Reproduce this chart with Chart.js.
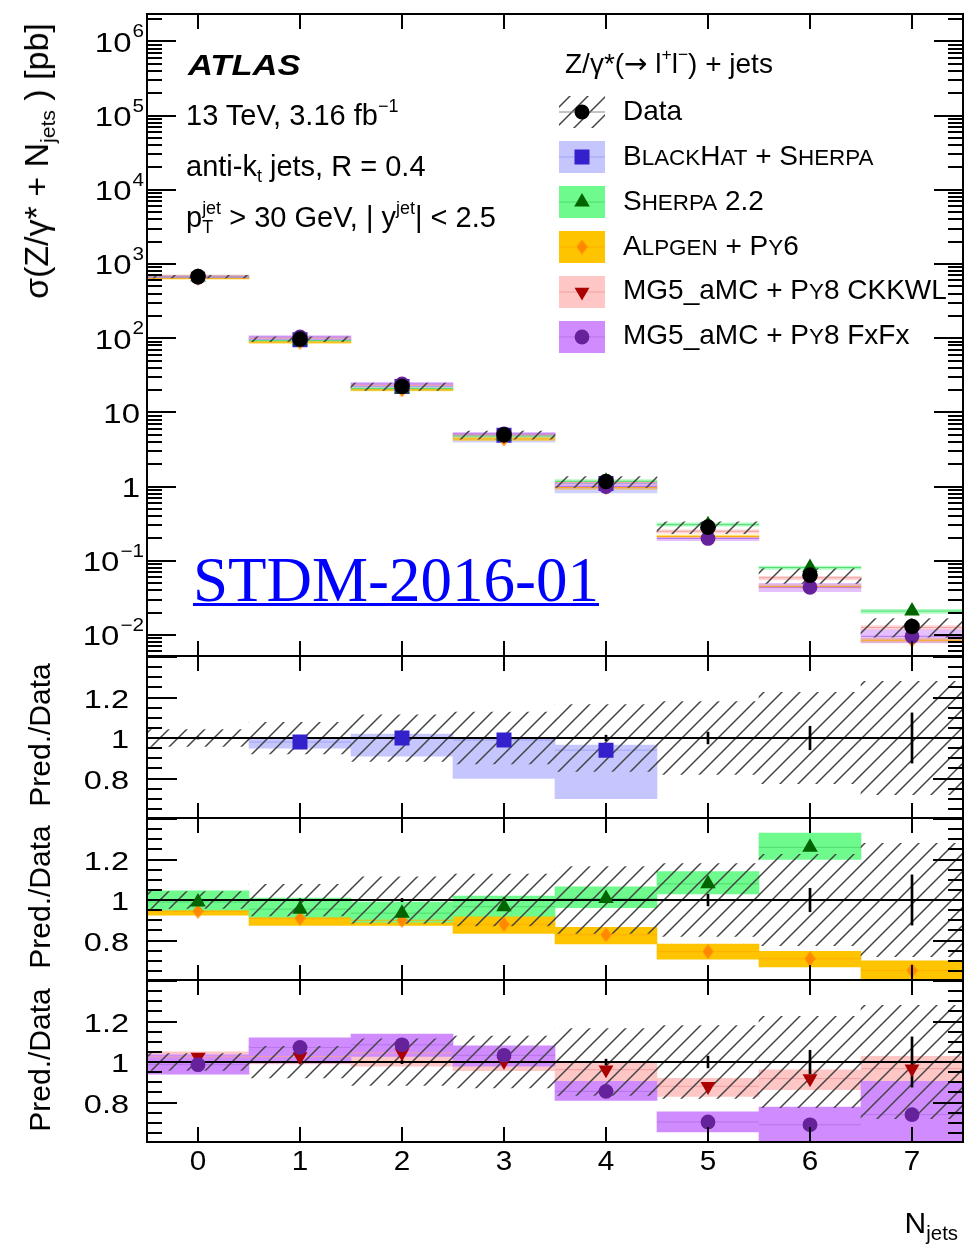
<!DOCTYPE html>
<html>
<head>
<meta charset="utf-8">
<title>Z+jets exclusive jet multiplicity</title>
<script src="https://cdn.jsdelivr.net/npm/chart.js@4.4.1/dist/chart.umd.min.js"></script>
<style>
  html, body { margin: 0; padding: 0; background: #fff; }
  #page { position: relative; width: 966px; height: 1248px; overflow: hidden; font-family: "Liberation Sans", Arial, Helvetica, sans-serif; color: #000; }
  #page canvas { position: absolute; left: 0; }
  .txt { position: absolute; white-space: nowrap; line-height: 1; }
  .sup { font-size: 0.62em; position: relative; top: -0.75em; }
  .sub { font-size: 0.62em; position: relative; top: 0.35em; }
  .sc { font-size: 0.8em; text-transform: uppercase; }
  .rot { transform: translate(-50%, -50%) rotate(-90deg); }
  .arrow { font-family: "DejaVu Sans", sans-serif; }
</style>
</head>
<body>
<div id="page">
  <canvas id="cMain" width="966" height="660" style="top:0px"></canvas>
  <canvas id="cR1" width="966" height="182" style="top:646px"></canvas>
  <canvas id="cR2" width="966" height="182" style="top:808px"></canvas>
  <canvas id="cR3" width="966" height="278" style="top:970px"></canvas>

  <!-- labels -->
  <div class="txt" style="left:188px; top:50px; font-size:30px; font-weight:bold; font-style:italic; transform:scaleX(1.15); transform-origin:left;">ATLAS</div>
  <div class="txt" style="left:186px; top:101px; font-size:29px;">13 TeV, 3.16 fb<span class="sup">−1</span></div>
  <div class="txt" style="left:186px; top:152px; font-size:29px;">anti-k<span class="sub">t</span> jets, R = 0.4</div>
  <div class="txt" style="left:186px; top:203px; font-size:29px;">p<span class="sub">T</span><span class="sup" style="margin-left:-11px">jet</span> &gt; 30 GeV, | y<span class="sup">jet</span>| &lt; 2.5</div>

  <!-- legend text -->
  <div class="txt" style="left:565px; top:50px; font-size:28px;">Z/γ*(<span class="arrow">→</span> l<span class="sup">+</span>l<span class="sup">−</span>) + jets</div>
  <div class="txt" style="left:623px; top:97px; font-size:28px;">Data</div>
  <div class="txt" style="left:623px; top:142px; font-size:28px;">B<span class="sc">lack</span>H<span class="sc">at</span> + S<span class="sc">herpa</span></div>
  <div class="txt" style="left:623px; top:187px; font-size:28px;">S<span class="sc">herpa</span> 2.2</div>
  <div class="txt" style="left:623px; top:232px; font-size:28px;">A<span class="sc">lpgen</span> + P<span class="sc">y</span>6</div>
  <div class="txt" style="left:623px; top:276px; font-size:28px;">MG5_aMC + P<span class="sc">y</span>8 CKKWL</div>
  <div class="txt" style="left:623px; top:321px; font-size:28px;">MG5_aMC + P<span class="sc">y</span>8 FxFx</div>

  <div class="txt" style="left:193px; top:549px; font-size:63px; font-family:'Liberation Serif', 'Times New Roman', serif; color:#0000ff; text-decoration:underline; text-decoration-thickness:3px;">STDM-2016-01</div>

  <!-- axis titles -->
  <div class="txt rot" style="left:36px; top:161px; font-size:34px;">σ(Z/γ* + N<span class="sub">jets</span> ) [pb]</div>
  <div class="txt rot" style="left:40px; top:735px; font-size:30px;">Pred./Data</div>
  <div class="txt rot" style="left:40px; top:897px; font-size:30px;">Pred./Data</div>
  <div class="txt rot" style="left:40px; top:1060px; font-size:30px;">Pred./Data</div>
  <div class="txt" style="right:8px; top:1208px; font-size:30px;">N<span class="sub" style="font-size:0.68em">jets</span></div>
</div>

<script>
// ---- values ----
const nJets = ['0', '1', '2', '3', '4', '5', '6', '7'];

// measured cross section [pb] and relative uncertainties
const xsData = [676, 97, 22.3, 4.98, 1.17, 0.284, 0.064, 0.013];
const dataStat = [0.005, 0.006, 0.008, 0.01, 0.014, 0.029, 0.058, 0.124];
const dataTotal = [0.042, 0.078, 0.115, 0.128, 0.165, 0.18, 0.225, 0.28];

// predictions [pb]
const xsBlackHat = [null, 95.1, 22.3, 4.93, 1.10, null, null, null];
const xsSherpa = [669, 92.6, 20.9, 4.82, 1.18, 0.307, 0.081, 0.021];
const xsAlpgen = [642, 88.3, 20.1, 4.38, 0.969, 0.212, 0.045, 0.0085];
const xsCKKWL = [690, 99.9, 23.2, 4.98, 1.13, 0.25, 0.059, 0.0126];
const xsFxFx = [667, 104, 24.2, 5.14, 1.0, 0.20, 0.044, 0.0096];

// Pred./Data with uncertainty band edges
const ratioBlackHat = [null, 0.98, 1.0, 0.99, 0.94, null, null, null];
const ratioBlackHatLo = [null, 0.95, 0.91, 0.80, 0.70, null, null, null];
const ratioBlackHatHi = [null, 1.0, 1.02, 1.0, 0.965, null, null, null];

const ratioSherpa = [0.99, 0.955, 0.935, 0.967, 1.008, 1.08, 1.26, 1.6];
const ratioSherpaLo = [0.95, 0.915, 0.89, 0.92, 0.962, 1.03, 1.2, 1.5];
const ratioSherpaHi = [1.045, 1.01, 0.99, 1.02, 1.065, 1.14, 1.33, 1.7];

const ratioAlpgen = [0.945, 0.91, 0.9, 0.88, 0.828, 0.745, 0.71, 0.652];
const ratioAlpgenLo = [0.925, 0.875, 0.875, 0.835, 0.783, 0.708, 0.67, 0.61];
const ratioAlpgenHi = [0.97, 0.945, 0.93, 0.925, 0.865, 0.783, 0.746, 0.7];

const ratioCKKWL = [1.025, 1.027, 1.045, 1.003, 0.962, 0.88, 0.918, 0.967];
const ratioCKKWLLo = [0.99, 0.99, 0.98, 0.957, 0.905, 0.83, 0.864, 0.905];
const ratioCKKWLHi = [1.05, 1.06, 1.08, 1.045, 1.0, 0.92, 0.962, 1.028];

const ratioFxFx = [0.987, 1.072, 1.085, 1.033, 0.855, 0.704, 0.69, 0.74];
const ratioFxFxLo = [0.94, 0.995, 1.028, 0.98, 0.81, 0.655, 0.6, 0.6];
const ratioFxFxHi = [1.036, 1.12, 1.138, 1.08, 0.905, 0.754, 0.777, 0.905];

// axis tick labels
const mainTickValues = [1e-2, 1e-1, 1, 10, 1e2, 1e3, 1e4, 1e5, 1e6];
const mainTickLabels = [['10', '−2'], ['10', '−1'], ['1', ''], ['10', ''], ['10', '2'], ['10', '3'], ['10', '4'], ['10', '5'], ['10', '6']];
const ratioTickValues = [0.8, 1, 1.2];
const ratioTickLabels = ['0.8', '1', '1.2'];

const FONT = '"Liberation Sans", Arial, Helvetica, sans-serif';

// orange diamond marker is narrower than a rotated square
function diamondImg(color, w, h) {
    const c = document.createElement('canvas');
    c.width = w; c.height = h;
    const g = c.getContext('2d');
    g.fillStyle = color;
    g.beginPath();
    g.moveTo(w / 2, 0); g.lineTo(w, h / 2); g.lineTo(w / 2, h); g.lineTo(0, h / 2);
    g.closePath(); g.fill();
    return c;
}

// ROOT style "////" hatch for the data uncertainty
function hatchPattern(ctx) {
    const s = 18;
    const t = document.createElement('canvas');
    t.width = t.height = s;
    const g = t.getContext('2d');
    g.strokeStyle = '#444';
    g.lineWidth = 1.5;
    g.beginPath();
    g.moveTo(0, s); g.lineTo(s, 0);
    g.moveTo(-s / 2, s / 2); g.lineTo(s / 2, -s / 2);
    g.moveTo(s / 2, s * 1.5); g.lineTo(s * 1.5, s / 2);
    g.stroke();
    return ctx.createPattern(t, 'repeat');
}

const models = {
    blackhat: { xs: xsBlackHat, r: ratioBlackHat, lo: ratioBlackHatLo, hi: ratioBlackHatHi,
        band: '#c6c6ff', bandA: 'rgba(170,170,255,0.55)', line: '#a3a3f2', mark: '#3322cc', style: 'rect', radius: 10.6, rot: 0 },
    sherpa: { xs: xsSherpa, r: ratioSherpa, lo: ratioSherpaLo, hi: ratioSherpaHi,
        band: '#6efa8c', bandA: 'rgba(110,250,140,0.55)', line: '#4fdc70', mark: '#006400', style: 'triangle', radius: 9, rot: 0 },
    alpgen: { xs: xsAlpgen, r: ratioAlpgen, lo: ratioAlpgenLo, hi: ratioAlpgenHi,
        band: '#ffc400', bandA: 'rgba(255,196,0,0.55)', line: '#ffae00', mark: '#ff8800', style: diamondImg('#ff8800', 11, 15), radius: 7, rot: 0 },
    ckkwl: { xs: xsCKKWL, r: ratioCKKWL, lo: ratioCKKWLLo, hi: ratioCKKWLHi,
        band: '#ffc6c6', bandA: 'rgba(255,180,180,0.55)', line: '#f2a0a0', mark: '#aa0000', style: 'triangle', radius: 8.6, rot: 180 },
    fxfx: { xs: xsFxFx, r: ratioFxFx, lo: ratioFxFxLo, hi: ratioFxFxHi,
        band: '#d08cff', bandA: 'rgba(208,140,255,0.55)', line: '#b774ea', mark: '#66229a', style: 'circle', radius: 7.4, rot: 0 }
};

function barSet(pairs, color, order, extra) {
    return Object.assign({
        type: 'bar', data: pairs, backgroundColor: color, borderWidth: 0,
        barPercentage: 1, categoryPercentage: 1, grouped: false, order: order
    }, extra || {});
}

function pointSet(vals, style, radius, rot, color, order) {
    return {
        type: 'line', data: vals, showLine: false, pointStyle: style, pointRadius: radius,
        pointRotation: rot, pointBackgroundColor: color, pointBorderColor: color,
        pointBorderWidth: 0, order: order
    };
}

// horizontal bin-wide line through the band centre
function centreSet(vals, color, order) {
    return {
        type: 'line', data: vals, showLine: false, pointStyle: 'line', pointRadius: 51,
        pointBorderColor: color, pointBorderWidth: 1, order: order
    };
}

function stretchText(ctx, s, x, y, sx, align) {
    ctx.save();
    ctx.translate(x, y);
    ctx.scale(sx, 1);
    ctx.textAlign = align;
    ctx.fillText(s, 0, 0);
    ctx.restore();
}

function drawMarker(ctx, m, x, y) {
    ctx.save();
    ctx.fillStyle = m.mark;
    if (m.style instanceof HTMLCanvasElement) {
        ctx.drawImage(m.style, x - m.style.width / 2, y - m.style.height / 2);
    } else if (m.style === 'rect') {
        const h = m.radius * Math.SQRT1_2;
        ctx.fillRect(x - h, y - h, 2 * h, 2 * h);
    } else if (m.style === 'circle') {
        ctx.beginPath(); ctx.arc(x, y, m.radius, 0, Math.PI * 2); ctx.fill();
    } else {
        let rad = m.rot * Math.PI / 180;
        ctx.beginPath();
        for (let k = 0; k < 3; k++) {
            const px = x + Math.sin(rad) * m.radius, py = y - Math.cos(rad) * m.radius;
            if (k === 0) ctx.moveTo(px, py); else ctx.lineTo(px, py);
            rad += Math.PI * 2 / 3;
        }
        ctx.closePath(); ctx.fill();
    }
    ctx.restore();
}

const panelPlugin = {
    id: 'panel',
    afterDatasetDraw(chart, args) {
        if (!chart.data.datasets[args.index].unityAfter) return;
        const { ctx, chartArea: a } = chart;
        const y = Math.round(chart.scales.y.getPixelForValue(1));
        ctx.save();
        ctx.strokeStyle = '#000';
        ctx.lineWidth = 2;
        ctx.beginPath(); ctx.moveTo(a.left, y); ctx.lineTo(a.right, y); ctx.stroke();
        ctx.restore();
    },
    afterDraw(chart, args, opts) {
        const { ctx, chartArea: a } = chart;
        const x = chart.scales.x, y = chart.scales.y;
        ctx.save();
        ctx.strokeStyle = '#000';
        ctx.lineWidth = 2;
        ctx.strokeRect(a.left, a.top, a.right - a.left, a.bottom - a.top);

        ctx.beginPath();
        nJets.forEach((c, i) => {
            const px = Math.round(x.getPixelForValue(i));
            ctx.moveTo(px, a.top); ctx.lineTo(px, a.top + 15);
            ctx.moveTo(px, a.bottom); ctx.lineTo(px, a.bottom - 15);
        });
        if (opts.log) {
            for (let e = -3; e <= 6; e++) {
                for (let m = 1; m <= 9; m++) {
                    const v = m * Math.pow(10, e);
                    if (v < y.min || v > y.max) continue;
                    const py = Math.round(y.getPixelForValue(v));
                    const len = m === 1 ? 29 : 15;
                    ctx.moveTo(a.left, py); ctx.lineTo(a.left + len, py);
                    ctx.moveTo(a.right, py); ctx.lineTo(a.right - len, py);
                }
            }
        } else {
            for (let k = 12; k <= 28; k++) {
                const v = k * 0.05;
                if (v < y.min || v > y.max) continue;
                const py = Math.round(y.getPixelForValue(v));
                const len = k % 4 === 0 ? 30 : 15;
                ctx.moveTo(a.left, py); ctx.lineTo(a.left + len, py);
                ctx.moveTo(a.right, py); ctx.lineTo(a.right - len, py);
            }
        }
        ctx.stroke();

        // tick labels
        ctx.fillStyle = '#000';
        ctx.textBaseline = 'middle';
        if (opts.log) {
            mainTickValues.forEach((v, i) => {
                const py = y.getPixelForValue(v);
                const [base, exp] = mainTickLabels[i];
                let right = 144;
                if (exp) {
                    ctx.font = '18px ' + FONT;
                    stretchText(ctx, exp, right, py - 9, 1.15, 'right');
                    right -= ctx.measureText(exp).width * 1.15 + 1;
                } else {
                    right = 140;
                }
                ctx.font = '27px ' + FONT;
                stretchText(ctx, base, right, py + 3, 1.22, 'right');
            });
        } else {
            ctx.font = '26px ' + FONT;
            ratioTickValues.forEach((v, i) => {
                stretchText(ctx, ratioTickLabels[i], 129, y.getPixelForValue(v) + 3, 1.25, 'right');
            });
        }
        if (opts.xLabels) {
            ctx.font = '27px ' + FONT;
            nJets.forEach((c, i) => {
                stretchText(ctx, c, x.getPixelForValue(i), a.bottom + 21, 1.1, 'center');
            });
        }

        if (opts.legend) {
            const bx = 559, bw = 46, bh = 32;
            // data entry
            ctx.save();
            ctx.beginPath(); ctx.rect(bx, 112 - bh / 2, bw, bh); ctx.clip();
            ctx.fillStyle = chart.$hatch;
            ctx.fillRect(bx, 112 - bh / 2, bw, bh);
            ctx.restore();
            ctx.strokeStyle = '#888'; ctx.lineWidth = 1;
            ctx.beginPath(); ctx.moveTo(bx, 112); ctx.lineTo(bx + bw, 112); ctx.stroke();
            ctx.fillStyle = '#000';
            ctx.beginPath(); ctx.arc(bx + bw / 2, 112, 7.5, 0, Math.PI * 2); ctx.fill();
            // model entries
            ['blackhat', 'sherpa', 'alpgen', 'ckkwl', 'fxfx'].forEach((key, k) => {
                const m = models[key], cy = 157 + 45 * k;
                ctx.fillStyle = m.band;
                ctx.fillRect(bx, cy - bh / 2, bw, bh);
                ctx.strokeStyle = m.line; ctx.lineWidth = 1;
                ctx.beginPath(); ctx.moveTo(bx, cy); ctx.lineTo(bx + bw, cy); ctx.stroke();
                drawMarker(ctx, m, bx + bw / 2, cy);
            });
        }
        ctx.restore();
    }
};

function makeChart(id, pad, yScale, datasets, panelOpts, hatch) {
    const chart = new Chart(document.getElementById(id), {
        type: 'bar',
        data: { labels: nJets, datasets: datasets },
        options: {
            responsive: false,
            animation: false,
            events: [],
            layout: { padding: pad, autoPadding: false },
            plugins: { legend: { display: false }, tooltip: { enabled: false }, panel: panelOpts },
            scales: {
                x: { type: 'category', offset: true, display: false },
                y: Object.assign({ display: false }, yScale)
            }
        },
        plugins: [panelPlugin]
    });
    chart.$hatch = hatch;
    chart.draw();
    return chart;
}

// ---- main panel ----
const mainCtx = document.getElementById('cMain').getContext('2d');
const mainHatch = hatchPattern(mainCtx);
const mainSets = [];
const mainOrder = ['blackhat', 'sherpa', 'alpgen', 'ckkwl', 'fxfx'];
mainOrder.forEach((key, k) => {
    const m = models[key];
    mainSets.push(barSet(m.lo.map((l, i) => (l == null ? null : [l * xsData[i], m.hi[i] * xsData[i]])), m.bandA, 100 - k));
    mainSets.push(centreSet(m.xs, m.line, 70 - k));
    mainSets.push(pointSet(m.xs, m.style, m.radius, m.rot, m.mark, 30 - k));
});
mainSets.push(barSet(xsData.map((d, i) => [d * (1 - dataTotal[i]), d * (1 + dataTotal[i])]), mainHatch, 60));
mainSets.push(pointSet(xsData, 'circle', 7.8, 0, '#000', 1));

makeChart('cMain', { left: 147, right: 3, top: 14, bottom: 4 },
    { type: 'logarithmic', min: 0.00521, max: 2.34e6 },
    mainSets, { log: true, legend: true, xLabels: false }, mainHatch);

// ---- ratio panels ----
function ratioSets(keys, hatch) {
    const sets = [];
    keys.forEach((key, j) => {
        const m = models[key];
        sets.push(barSet(m.lo.map((l, i) => (l == null ? null : [l, m.hi[i]])), m.band, 100 - j));
        sets.push(centreSet(m.r, m.line, 80 - j));
        sets.push(pointSet(m.r, m.style, m.radius, m.rot, m.mark, 20 - j));
    });
    sets.push(barSet(dataTotal.map(u => [1 - u, 1 + u]), hatch, 60, { unityAfter: true }));
    sets.push(barSet(dataStat.map(e => [1 - e, 1 + e]), '#000', 40, { barThickness: 2 }));
    return sets;
}

const ratioRange = { type: 'linear', min: 0.605, max: 1.405 };
[['cR1', ['blackhat'], 10], ['cR2', ['alpgen', 'sherpa'], 10], ['cR3', ['ckkwl', 'fxfx'], 106]].forEach(([id, keys, bottom]) => {
    const h = hatchPattern(document.getElementById(id).getContext('2d'));
    makeChart(id, { left: 147, right: 3, top: 10, bottom: bottom }, ratioRange,
        ratioSets(keys, h), { log: false, legend: false, xLabels: id === 'cR3' }, h);
});
</script>
</body>
</html>
